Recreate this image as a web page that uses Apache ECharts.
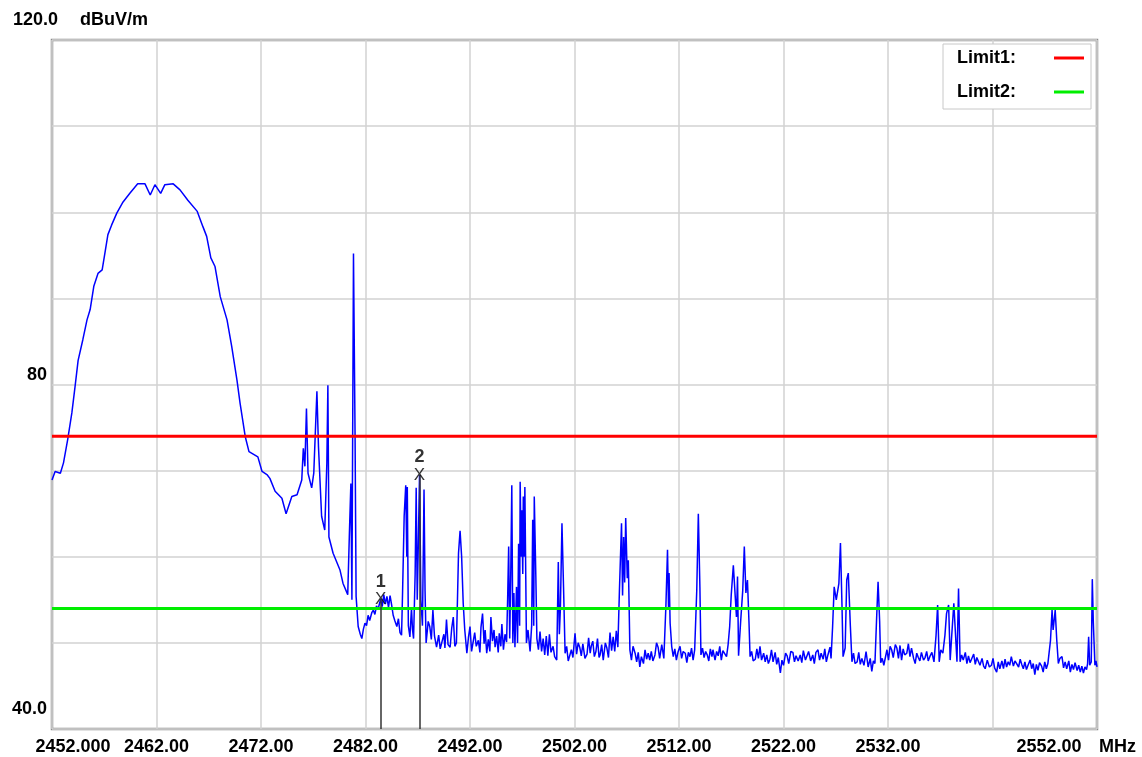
<!DOCTYPE html>
<html>
<head>
<meta charset="utf-8">
<script src="https://cdn.jsdelivr.net/npm/echarts@6.0.0/dist/echarts.min.js"></script>
<style>
html,body{margin:0;padding:0;background:#fff;}
#chart{width:1142px;height:757px;}
</style>
</head>
<body>
<div id="chart"></div>
<script>
// ---- data (MHz, dBuV/m) ----
const xMin = 2452, xMax = 2552, xStep = 10;
const yMin = 40, yMax = 120, yStep = 10;
const yUnit = 'dBuV/m';
const xUnit = 'MHz';

// carrier hump
const traceHump = [
[2452.0,68.9],[2452.3,69.9],[2452.8,69.7],[2453.1,70.9],[2453.5,73.6],[2453.9,76.7],[2454.2,79.7],[2454.5,82.8],
[2454.95,85.2],[2455.35,87.5],[2455.65,88.7],[2456.0,91.4],[2456.4,92.9],[2456.8,93.3],[2457.0,94.8],[2457.35,97.4],
[2457.7,98.5],[2458.2,99.9],[2458.8,101.2],[2459.45,102.2],[2460.2,103.3],[2460.9,103.3],[2461.4,102.0],[2461.85,103.2],
[2462.4,102.2],[2462.8,103.2],[2463.6,103.3],[2464.25,102.6],[2465.0,101.4],[2465.9,100.1],[2466.45,98.3],[2466.8,97.2],
[2467.2,94.7],[2467.6,93.7],[2468.1,90.2],[2468.75,87.5],[2469.2,84.4],[2469.7,80.5],[2470.0,77.8],[2470.5,73.9],
[2470.85,72.2],[2471.7,71.6],[2472.1,69.9],[2472.6,69.5],[2472.85,69.1],[2473.35,67.6],[2474.0,66.8],[2474.4,65.0],
[2474.95,67.0],[2475.45,67.2],[2475.55,67.0],[2475.9,68.9],[2476.05,72.6],[2476.2,70.5],[2476.35,77.2],[2476.5,69.7],
[2476.85,68.0],[2477.05,69.7],[2477.35,79.2],[2477.5,72.8],[2477.8,64.7],[2478.1,63.1],[2478.3,70.8],[2478.4,79.9],
[2478.5,62.3],[2478.9,60.4],[2479.55,58.5],[2479.85,56.9],[2480.3,55.6],[2480.45,62.3],[2480.6,68.5],[2480.7,55.0],
[2480.85,95.2],[2481.0,74.3]
];

// band-edge region with markers
const traceEdge = [
[2481.1,55.4],[2481.3,51.9],[2481.5,51.0],[2481.65,50.5],[2481.8,51.6],[2481.95,52.3],[2482.1,52.0],[2482.25,53.2],
[2482.4,52.6],[2482.6,53.5],[2482.75,53.8],[2482.9,53.3],[2483.05,54.3],[2483.2,53.9],[2483.45,55.06],[2483.6,54.2],
[2483.75,55.6],[2483.9,54.5],[2484.05,55.4],[2484.2,54.1],[2484.35,55.5],[2484.5,54.4],[2484.65,53.2],[2484.8,52.6],
[2485.0,51.9],[2485.15,52.8],[2485.3,51.2],[2485.45,50.9],[2485.55,56.0],[2485.7,64.7],[2485.85,68.3],[2485.95,60.0],
[2486.0,68.1],[2486.1,52.0],[2486.25,50.7],[2486.4,54.0],[2486.5,51.5],[2486.6,50.5],[2486.75,58.0],[2486.85,68.0],
[2486.95,55.0],[2487.05,61.2],[2487.17,69.5],[2487.3,55.0],[2487.45,52.0],[2487.6,67.8],[2487.7,56.0],[2487.8,50.0],
[2488.0,52.5],[2488.15,51.9],[2488.3,50.4],[2488.45,53.8],[2488.6,50.8],[2488.8,49.5],[2489.0,50.9],[2489.15,49.3],
[2489.3,49.2],[2489.5,51.0],[2489.6,49.4],[2489.75,52.7],[2489.9,49.8],[2490.1,49.5],[2490.25,51.7],[2490.4,53.0],
[2490.55,49.6],[2490.7,50.0],[2490.8,55.0],[2490.9,60.4],[2491.05,63.0],[2491.2,60.0],[2491.35,54.6],[2491.5,51.5],
[2491.7,48.8],[2491.85,50.6],[2492.0,51.9],[2492.15,49.0],[2492.3,49.2],[2492.45,51.2],[2492.6,49.6],[2492.8,50.3],
[2492.95,48.9],[2493.05,51.8],[2493.2,53.4],[2493.35,49.9],[2493.45,51.5],[2493.6,48.8],[2493.75,50.4],[2493.9,49.0],
[2494.0,53.0],[2494.15,50.2],[2494.3,51.5],[2494.4,49.5],[2494.55,50.8],[2494.7,48.9],[2494.8,51.1],[2494.95,49.6],
[2495.05,52.2],[2495.2,49.2],[2495.35,51.0],[2495.5,50.1]
];

// spurious clusters
const traceMid = [
[2495.6,55.0],[2495.7,61.2],[2495.8,50.5],[2495.9,58.0],[2496.0,68.3],[2496.1,50.0],[2496.2,55.8],[2496.3,49.5],
[2496.45,56.5],[2496.55,50.0],[2496.65,61.5],[2496.75,52.0],[2496.8,68.7],[2496.9,60.0],[2496.95,65.4],[2497.05,58.0],
[2497.1,67.0],[2497.2,60.0],[2497.25,68.1],[2497.4,50.0],[2497.55,51.5],[2497.75,49.0],[2497.9,52.0],[2498.0,64.3],
[2498.1,52.0],[2498.15,67.0],[2498.3,57.7],[2498.4,50.5],[2498.55,49.2],[2498.7,51.3],[2498.85,49.0],[2499.0,50.5],
[2499.15,48.6],[2499.3,50.8],[2499.45,48.5],[2499.6,51.0],[2499.75,48.9],[2499.95,49.6],[2500.1,48.4],[2500.3,48.0],
[2500.45,59.4],[2500.55,51.0],[2500.65,54.0],[2500.8,63.9],[2500.95,56.5],[2501.1,48.8],[2501.25,49.6],[2501.4,47.9],
[2501.55,48.0],[2501.7,49.2],[2501.85,48.3],[2502.05,51.1],[2502.2,48.7],[2502.35,50.0],[2502.5,49.5],[2502.65,48.5],
[2502.8,49.9],[2503.0,48.2],[2503.2,48.7],[2503.35,50.6],[2503.5,48.8],[2503.6,49.6],[2503.75,50.2],[2503.9,48.4],
[2504.05,49.0],[2504.2,50.5],[2504.35,48.3],[2504.45,48.6],[2504.6,49.8],[2504.75,48.0],[2504.95,50.0],[2505.1,49.4],
[2505.25,48.3],[2505.4,51.2],[2505.55,49.1],[2505.7,50.7],[2505.85,49.0],[2506.0,51.4],[2506.15,49.5],[2506.3,56.1],
[2506.5,63.9],[2506.6,55.5],[2506.7,62.3],[2506.8,57.0],[2506.9,64.5],[2507.05,57.5],[2507.15,59.6],[2507.3,49.2],
[2507.45,48.0],[2507.6,49.6],[2507.8,48.8],[2507.95,47.8],[2508.1,48.9],[2508.25,47.2],[2508.4,48.4],[2508.6,47.6],
[2508.75,49.2],[2508.9,48.1],[2509.05,48.8],[2509.2,48.0],[2509.35,49.0],[2509.5,47.9],[2509.7,48.6],[2509.85,50.0],
[2510.0,49.5],[2510.15,48.2],[2510.35,49.8],[2510.55,48.2],[2510.75,54.4],[2510.9,60.8],[2511.0,54.0],[2511.05,58.1],
[2511.15,52.3],[2511.3,49.6],[2511.45,48.4],[2511.6,49.3],[2511.75,48.0],[2511.9,48.9],[2512.1,49.6],[2512.25,48.2],
[2512.4,49.0],[2512.6,48.8],[2512.75,47.7],[2512.9,48.9],[2513.05,48.4],[2513.2,49.4],[2513.35,48.0],[2513.5,49.2],
[2513.7,56.1],[2513.85,65.0],[2514.0,56.5],[2514.1,48.6],[2514.25,49.4],[2514.4,48.3],[2514.55,49.0],[2514.7,48.6],
[2514.85,47.9],[2515.0,49.3],[2515.15,48.4],[2515.25,49.2],[2515.45,48.0],[2515.6,49.0],[2515.75,48.5],[2515.9,49.6],
[2516.05,48.0],[2516.2,49.1],[2516.4,48.7],[2516.55,48.4],[2516.7,49.8],[2516.85,51.9],[2517.0,55.6],[2517.2,59.0],
[2517.35,59.2],[2517.5,53.0],[2517.6,57.7],[2517.7,48.5],[2517.9,52.5],[2518.1,56.1],[2518.25,61.2],[2518.4,55.8],
[2518.55,57.3],[2518.7,52.3],[2518.8,48.4]
];

// upper band floor
const traceHigh = [
[2518.95,49.0],[2519.1,47.9],[2519.3,48.1],[2519.45,49.3],[2519.6,48.2],[2519.75,49.6],[2519.9,48.0],[2520.1,48.8],
[2520.25,47.8],[2520.4,48.6],[2520.55,47.6],[2520.7,48.1],[2520.85,49.2],[2521.0,47.8],[2521.2,48.9],[2521.35,47.5],
[2521.5,48.3],[2521.7,46.5],[2521.85,48.0],[2522.0,47.4],[2522.2,48.8],[2522.35,48.5],[2522.5,47.6],[2522.7,49.0],
[2522.9,48.9],[2523.05,47.8],[2523.2,48.5],[2523.4,47.9],[2523.6,48.6],[2523.75,47.7],[2523.9,49.1],[2524.1,48.0],
[2524.25,48.1],[2524.4,49.0],[2524.6,47.9],[2524.8,48.6],[2524.95,47.6],[2525.1,48.9],[2525.3,49.2],[2525.45,48.0],
[2525.6,48.8],[2525.8,48.1],[2525.95,49.3],[2526.1,47.8],[2526.25,48.6],[2526.45,49.5],[2526.55,48.2],[2526.7,51.9],
[2526.85,56.5],[2527.05,55.0],[2527.3,56.9],[2527.45,61.6],[2527.6,54.2],[2527.7,48.4],[2527.9,49.4],[2528.05,57.3],
[2528.2,58.1],[2528.4,51.9],[2528.55,47.8],[2528.7,48.8],[2528.85,47.6],[2529.05,47.8],[2529.2,48.9],[2529.35,47.5],
[2529.5,48.2],[2529.7,47.4],[2529.9,49.0],[2530.1,47.2],[2530.3,48.2],[2530.45,46.7],[2530.6,47.9],[2530.75,47.6],
[2530.9,52.5],[2531.05,57.1],[2531.2,52.5],[2531.3,47.7],[2531.45,48.2],[2531.6,47.4],[2531.75,47.5],[2531.9,49.2],
[2532.05,48.0],[2532.2,49.6],[2532.35,49.2],[2532.5,48.3],[2532.7,49.8],[2532.85,49.4],[2533.0,48.2],[2533.15,49.7],
[2533.3,48.0],[2533.45,49.3],[2533.6,48.6],[2533.8,48.8],[2533.95,49.9],[2534.1,48.4],[2534.25,49.4],[2534.45,48.2],
[2534.6,47.6],[2534.75,48.8],[2534.9,48.3],[2535.05,47.9],[2535.2,48.9],[2535.4,48.0],[2535.55,48.3],[2535.7,49.0],
[2535.85,47.9],[2536.0,48.4],[2536.2,48.9],[2536.4,47.8],[2536.6,50.9],[2536.75,54.4],[2536.9,47.8],[2537.05,49.2],
[2537.25,48.8],[2537.45,50.9],[2537.6,53.4],[2537.8,54.4],[2537.95,48.0],[2538.1,50.9],[2538.3,54.6],[2538.4,54.8],
[2538.6,47.8],[2538.75,56.3],[2538.9,47.8],[2539.05,48.6],[2539.2,48.0],[2539.4,48.9],[2539.55,47.6],[2539.7,48.5],
[2539.85,47.7],[2540.0,47.8],[2540.2,48.7],[2540.35,47.5],[2540.5,48.3],[2540.65,48.5],[2540.8,47.4],[2541.0,48.2],
[2541.15,47.3],[2541.3,47.0],[2541.5,48.0],[2541.7,47.2],[2541.9,47.4],[2542.05,48.2],[2542.2,47.1],[2542.4,46.6],
[2542.55,47.8],[2542.7,47.0],[2542.9,47.9],[2543.05,47.0],[2543.2,48.1],[2543.35,47.2],[2543.5,47.8],[2543.65,47.4],
[2543.8,48.4],[2544.0,47.3],[2544.15,47.9],[2544.3,48.0],[2544.5,47.2],[2544.65,48.1],[2544.8,47.5],[2544.95,47.0],
[2545.1,47.8],[2545.25,46.9],[2545.4,47.4],[2545.6,48.0],[2545.75,47.0],[2545.9,47.6],[2546.05,46.3],[2546.2,47.5],
[2546.35,46.8],[2546.5,47.7],[2546.7,47.3],[2546.85,46.6],[2547.0,47.8],[2547.15,47.0],[2547.3,47.6],[2547.55,50.3],
[2547.7,53.8],[2547.8,51.5],[2548.0,53.8],[2548.15,50.3],[2548.3,47.6],[2548.45,48.2],[2548.65,48.4],[2548.8,47.1],
[2548.95,47.8],[2549.1,47.0],[2549.3,47.9],[2549.45,46.6],[2549.6,47.5],[2549.75,46.9],[2549.9,47.7],[2550.1,46.8],
[2550.25,47.4],[2550.4,46.6],[2550.55,47.3],[2550.7,46.5],[2550.85,47.2],[2551.0,46.9],[2551.1,47.6],[2551.2,50.7],
[2551.3,47.4],[2551.45,47.8],[2551.55,57.4],[2551.65,52.3],[2551.8,47.4],[2551.9,47.9],[2552.0,47.2]
];

const limitNames = ['Limit1:', 'Limit2:'];
const limitLevels = [74.0, 54.0];
const limitColors = ['#ff0000', '#00ee00'];

const markerNames = ['1', '2'];
const markerFreqs = [2483.45, 2487.17];
const markerLevels = [55.06, 69.5];

// ---- chart ----
const FONT = "'Liberation Sans', Arial, sans-serif";
const FW = 'bold';
const FS = 18;
const trace = traceHump.concat(traceEdge, traceMid, traceHigh);

const chart = echarts.init(document.getElementById('chart'), null, {renderer: 'canvas'});

const series = [];
// marker drop lines (below trace)
series.push({
  type: 'line', name: 'markers-lines', data: [], z: 1, silent: true,
  markLine: {
    silent: true, symbol: ['none', 'none'], animation: false,
    label: {show: false},
    lineStyle: {color: '#333', width: 1.5, type: 'solid'},
    data: markerFreqs.map((f, i) => [{coord: [f, markerLevels[i]]}, {coord: [f, yMin]}])
  }
});
series.push({
  type: 'line', name: 'trace', data: trace, z: 3, showSymbol: false, symbol: 'none',
  lineStyle: {color: '#0000ff', width: 1.5}, silent: true, animation: false
});
limitNames.forEach((n, i) => {
  series.push({
    type: 'line', name: n, z: 4, symbol: 'none', silent: true,
    data: [[xMin, limitLevels[i]], [xMax, limitLevels[i]]],
    color: limitColors[i],
    lineStyle: {color: limitColors[i], width: 3}
  });
});
series.push({
  type: 'scatter', name: 'markerX', z: 6, silent: true,
  symbolSize: 1, itemStyle: {color: 'rgba(0,0,0,0)'},
  data: markerFreqs.map((f, i) => [f, markerLevels[i]]),
  label: {show: true, position: 'inside', formatter: 'X', fontFamily: FONT, fontSize: 17, fontWeight: 'normal', color: '#000'}
});
series.push({
  type: 'scatter', name: 'markerN', z: 6, silent: true,
  symbolSize: 1, itemStyle: {color: 'rgba(0,0,0,0)'},
  data: markerFreqs.map((f, i) => ({value: [f, markerLevels[i]], name: markerNames[i]})),
  label: {show: true, position: 'top', distance: 8, formatter: p => p.name, fontFamily: FONT, fontSize: FS, fontWeight: FW, color: '#000'}
});

const txt = {fontFamily: FONT, fontSize: FS, fontWeight: FW, color: '#000'};

const option = {
  animation: false,
  backgroundColor: '#fff',
  grid: {left: 52, right: 45, top: 40, bottom: 28, show: true, borderColor: '#8c8c8c', borderWidth: 2.5, backgroundColor: '#fff'},
  legend: {
    data: limitNames, left: 943, top: 44, orient: 'vertical', align: 'right',
    icon: 'rect', itemWidth: 30, itemHeight: 3, itemGap: 14,
    backgroundColor: '#fff', borderColor: '#c8c8c8', borderWidth: 1, padding: [4, 7, 7, 14],
    formatter: n => '{a|' + n + '}',
    textStyle: Object.assign({lineHeight: 20, rich: {a: Object.assign({width: 92, align: 'left', lineHeight: 20}, txt)}}, txt),
    selectedMode: false
  },
  xAxis: {
    type: 'value', min: xMin, max: xMax, interval: xStep,
    name: xUnit, nameLocation: 'end', nameGap: 2,
    nameTextStyle: Object.assign({align: 'left', verticalAlign: 'top', padding: [9, 0, 0, 0]}, txt),
    axisLine: {show: false}, axisTick: {show: false},
    splitLine: {show: true, lineStyle: {color: '#d2d2d2', width: 1.5}},
    axisLabel: Object.assign({
      margin: 9,
      formatter: v => {
        if (v === xMin) return '{f|' + v.toFixed(3) + '}';
        if (v === xMax) return '{l|' + v.toFixed(2) + '}';
        if (v === 2542) return '';
        return v.toFixed(2);
      },
      rich: {
        f: Object.assign({padding: [0, 0, 0, 42]}, txt),
        l: Object.assign({padding: [0, 96, 0, 0]}, txt)
      }
    }, txt)
  },
  yAxis: {
    type: 'value', min: yMin, max: yMax, interval: yStep,
    axisLine: {show: false}, axisTick: {show: false},
    splitLine: {show: true, lineStyle: {color: '#d2d2d2', width: 1.5}},
    axisLabel: Object.assign({
      margin: 40, align: 'left', verticalAlign: 'bottom',
      formatter: v => {
        if (v === yMax) return '{t|' + v.toFixed(1) + '}';
        if (v === yMin) return '{b|' + v.toFixed(1) + '}';
        if (v === 80) return '{m|' + v + '}';
        return '';
      },
      rich: {
        t: Object.assign({padding: [0, 0, 11, 1]}, txt),
        b: Object.assign({padding: [0, 0, 11, 0]}, txt),
        m: Object.assign({padding: [0, 0, 0, 15]}, txt)
      }
    }, txt)
  },
  graphic: [{
    type: 'text', left: 80, top: 11, silent: true,
    style: {text: yUnit, fontFamily: FONT, fontSize: FS, fontWeight: FW, fill: '#000'}
  }],
  series: series
};
chart.setOption(option);
</script>
</body>
</html>
